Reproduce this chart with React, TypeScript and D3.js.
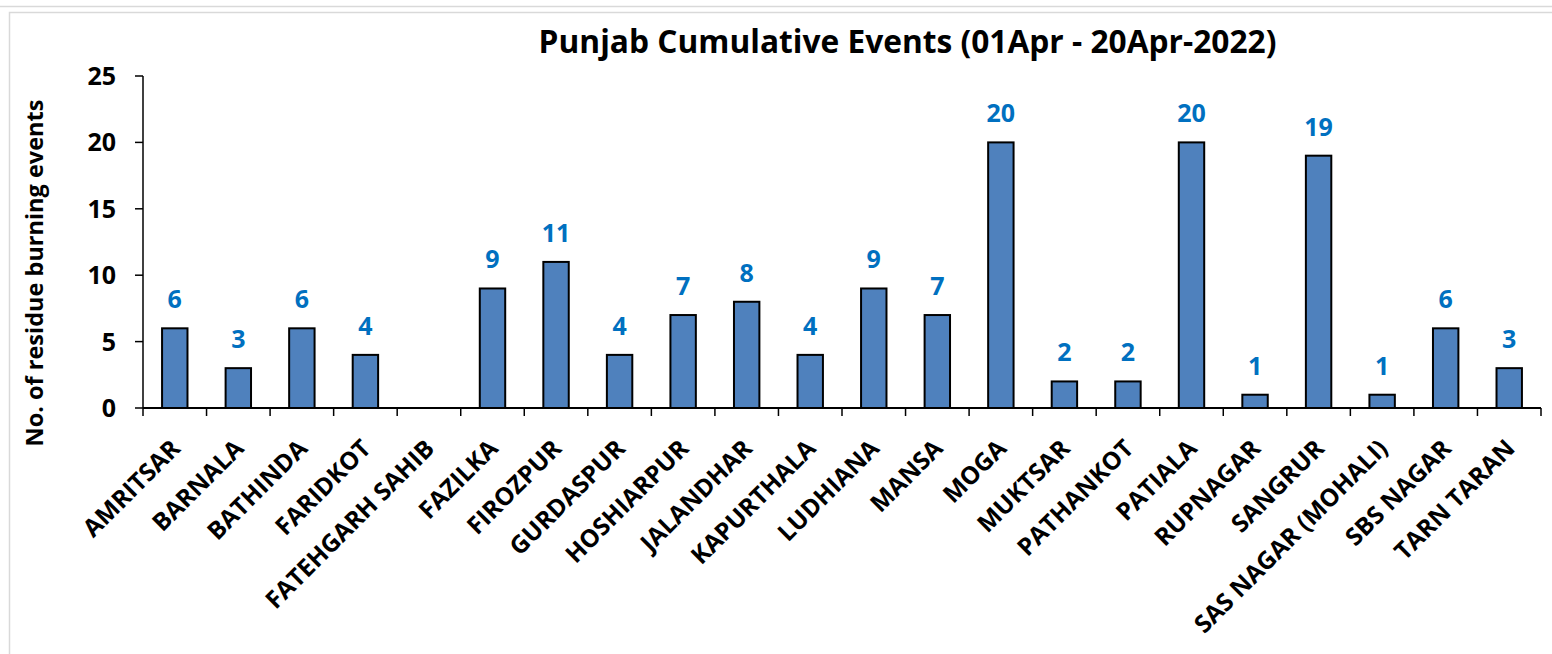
import React from "react";
import * as d3 from "d3";

const districts = ["AMRITSAR","BARNALA","BATHINDA","FARIDKOT","FATEHGARH SAHIB","FAZILKA","FIROZPUR","GURDASPUR","HOSHIARPUR","JALANDHAR","KAPURTHALA","LUDHIANA","MANSA","MOGA","MUKTSAR","PATHANKOT","PATIALA","RUPNAGAR","SANGRUR","SAS NAGAR (MOHALI)","SBS NAGAR","TARN TARAN"];
const events = [6,3,6,4,0,9,11,4,7,8,4,9,7,20,2,2,20,1,19,1,6,3];
const yTicks = [0,5,10,15,20,25];
const title = "Punjab Cumulative Events (01Apr - 20Apr-2022)";
const yTitle = "No. of residue burning events";

export default function App() {
  const W = 1552, H = 654;
  const x0 = 143, x1 = 1541, yTop = 76, yBot = 408;
  const x = d3.scaleBand<string>().domain(districts).range([x0, x1]).paddingInner(0.6).paddingOuter(0.3);
  const xb = d3.scaleBand<string>().domain(districts).range([x0, x1]);
  const y = d3.scaleLinear().domain([0, 25]).range([yBot, yTop]);
  const font = "'Open Sans', sans-serif";
  return (
    <svg width={W} height={H} style={{ position: "absolute", left: 0, top: 0, background: "#fff" }} fontFamily={font}>
      <rect x={0} y={0} width={W} height={H} fill="#fff" />
      <line x1={0} x2={W} y1={6.5} y2={6.5} stroke="#d9d9d9" strokeWidth={1.5} />
      <rect x={9.5} y={12.5} width={W + 10} height={H} fill="none" stroke="#d9d9d9" strokeWidth={1.5} />
      <text x={907.5} y={53} textAnchor="middle" fontSize={31.7} fontWeight="bold" fill="#000">{title}</text>
      <text transform={`translate(43,273) rotate(-90)`} textAnchor="middle" fontSize={23.5} fontWeight="bold" fill="#000">{yTitle}</text>
      {yTicks.map(t => (
        <g key={t}>
          <line x1={x0 - 8} x2={x0} y1={y(t)} y2={y(t)} stroke="#000" strokeWidth={1.5} />
          <text x={x0 - 27} y={y(t) + 9} textAnchor="end" fontSize={25} fontWeight="bold" fill="#000">{t}</text>
        </g>
      ))}
      {districts.map((d, i) => (
        events[i] > 0 ? (
          <g key={d}>
            <rect x={x(d)!} y={y(events[i])} width={x.bandwidth()} height={yBot - y(events[i])} fill="#4F81BD" stroke="#000" strokeWidth={2} />
            <text x={x(d)! + x.bandwidth() / 2} y={y(events[i]) - 20} textAnchor="middle" fontSize={25} fontWeight="bold" fill="#0070C0">{events[i]}</text>
          </g>
        ) : null
      ))}
      <line x1={x0} x2={x0} y1={yTop} y2={yBot} stroke="#000" strokeWidth={1.5} />
      <line x1={x0} x2={x1} y1={yBot} y2={yBot} stroke="#000" strokeWidth={2} />
      {districts.map(d => (
        <line key={"t" + d} x1={xb(d)!} x2={xb(d)!} y1={yBot} y2={yBot + 8} stroke="#000" strokeWidth={1.5} />
      ))}
      <line x1={x1} x2={x1} y1={yBot} y2={yBot + 8} stroke="#000" strokeWidth={1.5} />
      {districts.map(d => {
        const cx = xb(d)! + xb.bandwidth() / 2 + 7;
        return (
          <text key={"l" + d} transform={`translate(${cx},${yBot + 42}) rotate(-45)`} textAnchor="end" fontSize={24.5} fontWeight="bold" fill="#000">{d}</text>
        );
      })}
    </svg>
  );
}
